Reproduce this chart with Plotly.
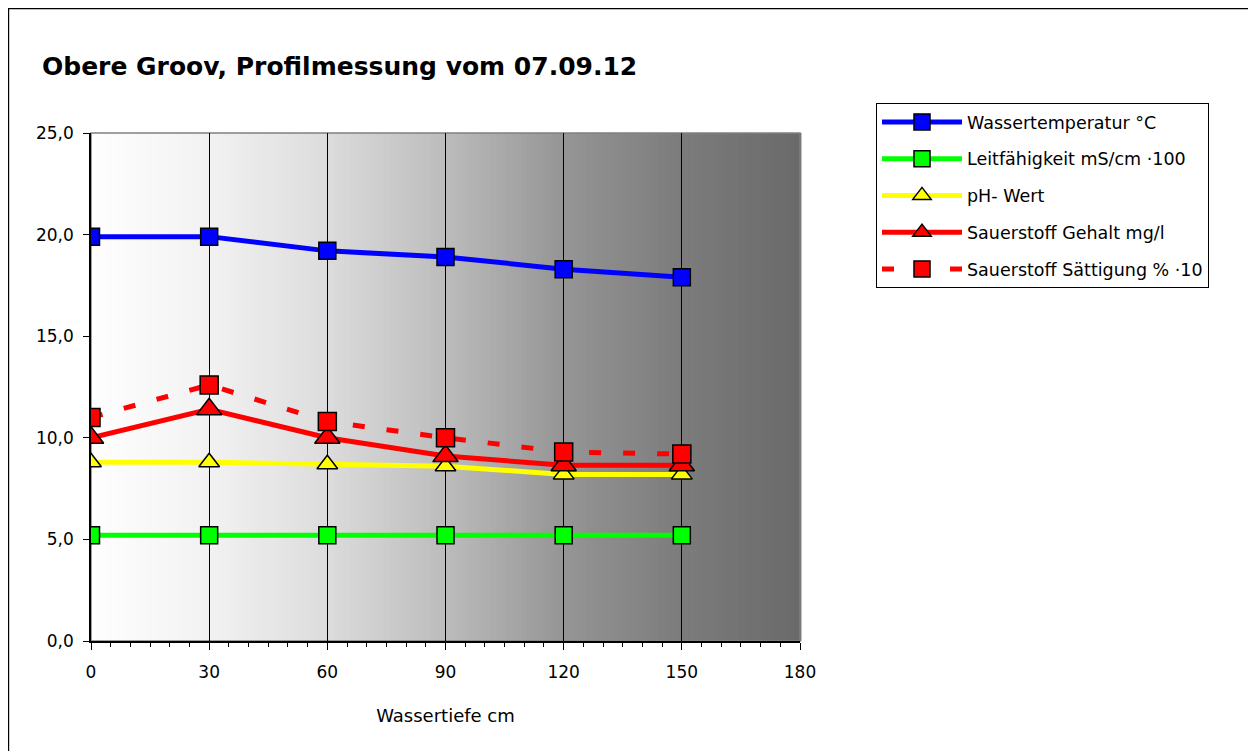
import plotly.graph_objects as go

# ---- data ----
depth = [0, 30, 60, 90, 120, 150]
wassertemperatur = [19.9, 19.9, 19.2, 18.9, 18.3, 17.9]
leitfaehigkeit = [5.2, 5.2, 5.2, 5.2, 5.2, 5.2]
ph_wert = [8.8, 8.8, 8.7, 8.6, 8.2, 8.2]
sauerstoff_gehalt = [10.0, 11.4, 10.0, 9.1, 8.65, 8.65]
sauerstoff_saettigung = [11.0, 12.6, 10.8, 10.0, 9.3, 9.2]

names = ["Wassertemperatur °C", "Leitfähigkeit mS/cm ·100", "pH- Wert",
         "Sauerstoff Gehalt mg/l", "Sauerstoff Sättigung % ·10"]
x_ticks = [0, 30, 60, 90, 120, 150, 180]
y_ticks = [0, 5, 10, 15, 20, 25]
title_text = "Obere Groov, Profilmessung vom 07.09.12"
x_title = "Wassertiefe cm"

FONT = "DejaVu Sans, Arial, sans-serif"

W, H = 1248, 743          # page body has an 8px margin
L, T = 83, 125            # plot area left/top inside the figure
PW, PH = 709, 508         # plot area size

fig = go.Figure()

def add(y, name, color, symbol, msize, dash="solid", grp="g"):
    fig.add_trace(go.Scatter(
        x=depth, y=y, name=name, mode="lines+markers",
        line=dict(color=color, width=5, dash=dash),
        marker=dict(symbol=symbol, size=msize, color=color,
                    line=dict(color="black", width=1.5)),
        legendgroup=grp,
    ))

add(wassertemperatur, names[0], "#0000ff", "square", 17, grp="a")
add(leitfaehigkeit, names[1], "#00ff00", "square", 17, grp="b")
add(ph_wert, names[2], "#ffff00", "triangle-up", 18, grp="c")
add(sauerstoff_gehalt, names[3], "#ff0000", "triangle-up", 22, grp="d")
add(sauerstoff_saettigung, names[4], "#ff0000", "square", 18, dash="12px,22px", grp="e")

# ---- background gradient (plot area) ----
stops = [(0.0, 254), (1/6, 242), (2/6, 220), (3/6, 188), (4/6, 149), (5/6, 124), (1.0, 106)]
def grey(t):
    for (t0, c0), (t1, c1) in zip(stops[:-1], stops[1:]):
        if t <= t1:
            return c0 + (c1 - c0) * (t - t0) / (t1 - t0)
    return stops[-1][1]

N = 140
shapes = []
for i in range(N):
    t0, t1 = i / N, (i + 1) / N
    g = int(round(grey((t0 + t1) / 2)))
    shapes.append(dict(type="rect", xref="x domain", yref="y domain",
                       x0=t0, x1=t1 + 0.002, y0=0, y1=1, layer="below",
                       fillcolor=f"rgb({g},{g},{g})", line=dict(width=0)))
# plot-area border (grey top/right)
shapes.append(dict(type="rect", xref="x domain", yref="y domain", x0=0, x1=1, y0=0, y1=1,
                   layer="below", line=dict(color="#808080", width=1.5), fillcolor="rgba(0,0,0,0)"))
# outer chart border
shapes.append(dict(type="rect", xref="paper", yref="paper",
                   x0=(0.6 - L) / PW, x1=(W + 40 - L) / PW,
                   y0=(T + PH - (H + 40)) / PH, y1=(T + PH - 0.6) / PH,
                   line=dict(color="black", width=1.2), layer="below"))

fig.update_layout(
    width=W, height=H,
    margin=dict(l=L, r=W - L - PW, t=T, b=H - T - PH),
    paper_bgcolor="white", plot_bgcolor="white",
    font=dict(family=FONT, size=16, color="black"),
    separators=",.",
    shapes=shapes,
    title=dict(text=f"<b>{title_text}</b>", x=34 / W, xref="container", xanchor="left",
               y=1 - 58 / H, yref="container", yanchor="middle",
               font=dict(family=FONT, size=25, color="black")),
    legend=dict(x=(868 - L) / PW, y=(T + PH - 95) / PH, xanchor="left", yanchor="top",
                bgcolor="white", bordercolor="black", borderwidth=1,
                font=dict(family=FONT, size=17.5), tracegroupgap=11,
                itemwidth=80),
    showlegend=True,
)

fig.update_xaxes(range=[0, 180], tickvals=x_ticks, ticks="outside", ticklen=7,
                 tickcolor="black", showline=True, linecolor="black", linewidth=1.5,
                 showgrid=True, gridcolor="black", gridwidth=1, zeroline=False,
                 minor=dict(dtick=5, ticks="outside", ticklen=4, tickcolor="black", showgrid=False),
                 ticklabelstandoff=8,
                 title=dict(text=x_title, font=dict(family=FONT, size=18), standoff=28),
                 tickfont=dict(family=FONT, size=17))
fig.update_yaxes(range=[0, 25], tickvals=y_ticks, tickformat=".1f", ticks="outside", ticklen=6,
                 tickcolor="black", showline=True, linecolor="black", linewidth=1.5,
                 showgrid=False, zeroline=False, ticklabelstandoff=6,
                 tickfont=dict(family=FONT, size=17))

fig.write_html("out.html")
